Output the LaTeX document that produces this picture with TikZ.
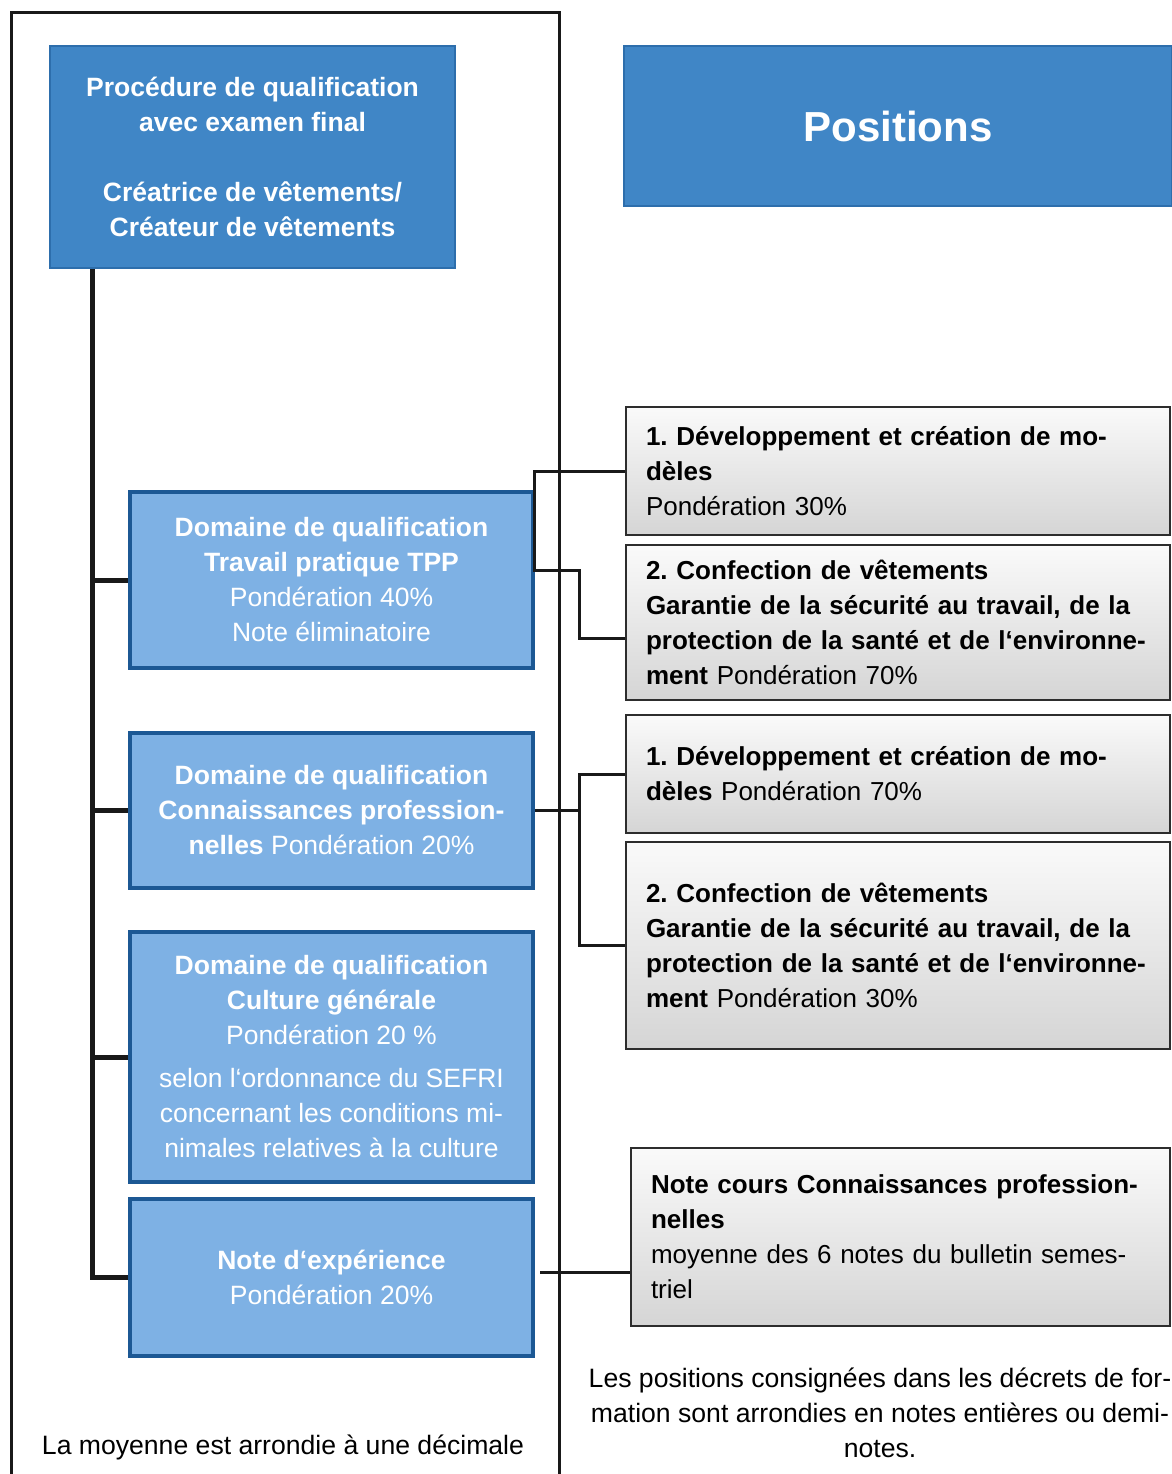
\documentclass[tikz,border=0pt]{standalone}
\usepackage{fontspec}
\setmainfont{Liberation Sans}
\frenchspacing
\definecolor{topblue}{RGB}{64,134,198}
\definecolor{topborder}{RGB}{45,110,172}
\definecolor{lightblue}{RGB}{126,177,228}
\definecolor{darkborder}{RGB}{28,88,148}
\definecolor{grayborder}{RGB}{45,45,45}
\definecolor{linecol}{RGB}{25,25,25}
\begin{document}
\begin{tikzpicture}[x=1pt,y=-1pt,
  topbox/.style={draw=topborder, line width=2pt, fill=topblue, text=white,
    font=\fontsize{26.5}{35}\selectfont\bfseries, align=center, inner sep=0pt},
  domainbox/.style={draw=darkborder, line width=3.5pt, fill=lightblue, text=white,
    font=\fontsize{26.5}{35}\selectfont, align=center, inner sep=0pt,
    minimum width=403pt},
  graybox/.style={draw=grayborder, line width=2pt, top color=gray!4, bottom color=gray!33,
    font=\fontsize{26}{35}\selectfont, align=left, inner xsep=20pt, inner ysep=0pt,
    text width=504pt},
  spine/.style={draw=linecol, line width=5pt},
  conn/.style={draw=linecol, line width=3pt},
  plain/.style={font=\fontsize{26.6}{35}\selectfont, inner sep=0pt, align=center}
]
\useasboundingbox (0,0) rectangle (1171,1474);
\fill[white] (0,0) rectangle (1171,1474);

% frame
\draw[line width=3pt, draw=linecol] (11,1480) -- (11,13) -- (559,13) -- (559,1480);

% top box
\node[topbox, minimum width=405pt, minimum height=222pt] (top) at (252.5,157)
  {Procédure de qualification\\avec examen final\\[35pt]Créatrice de vêtements/\\Créateur de vêtements};

% positions
\node[topbox, minimum width=548pt, minimum height=160pt, font=\fontsize{42}{48}\selectfont\bfseries] (pos) at (898,126) {Positions};

% domain boxes
\node[domainbox, minimum height=176pt] (d1) at (331.5,580)
  {\textbf{Domaine de qualification}\\\textbf{Travail pratique TPP}\\Pondération 40\%\\Note éliminatoire};
\node[domainbox, minimum height=155pt] (d2) at (331.5,810.5)
  {\textbf{Domaine de qualification}\\\textbf{Connaissances profession-}\\\textbf{nelles} Pondération 20\%};
\node[domainbox, minimum height=250pt] (d3) at (331.5,1057)
  {\textbf{Domaine de qualification}\\\textbf{Culture générale}\\Pondération 20 \%\\[8pt]selon l‘ordonnance du SEFRI\\concernant les conditions mi-\\nimales relatives à la culture};
\node[domainbox, minimum height=157pt] (d4) at (331.5,1277.5)
  {\textbf{Note d‘expérience}\\Pondération 20\%};

% gray boxes
\node[graybox, minimum height=128pt] (gA) at (898,471)
  {\mbox{\textbf{1. Développement et création de mo-}}\\\textbf{dèles}\\Pondération 30\%};
\node[graybox, minimum height=155pt] (gB) at (898,622.5)
  {\textbf{2. Confection de vêtements}\\\mbox{\textbf{Garantie de la sécurité au travail, de la}}\\\mbox{\textbf{protection de la santé et de l‘environne-}}\\\textbf{ment} Pondération 70\%};
\node[graybox, minimum height=118pt] (gC) at (898,774)
  {\mbox{\textbf{1. Développement et création de mo-}}\\\textbf{dèles} Pondération 70\%};
\node[graybox, minimum height=207pt] (gD) at (898,945.5)
  {\textbf{2. Confection de vêtements}\\\mbox{\textbf{Garantie de la sécurité au travail, de la}}\\\mbox{\textbf{protection de la santé et de l‘environne-}}\\\textbf{ment} Pondération 30\%};
\node[graybox, minimum height=178pt, text width=499pt] (gE) at (900.5,1237)
  {\mbox{\textbf{Note cours Connaissances profession-}}\\\textbf{nelles}\\\mbox{moyenne des 6 notes du bulletin semes-}\\triel};

% bottom notes
\node[plain] (n1) at (283,1447) {La moyenne est arrondie à une décimale};
\node[plain] (n2) at (880,1413) {Les positions consignées dans les décrets de for-\\mation sont arrondies en notes entières ou demi-\\notes.};

% left spine
\coordinate (sp) at (92,268);
\draw[spine] (top.south -| sp) |- (d4.west);
\draw[spine] (d1.west -| sp) -- (d1.west);
\draw[spine] (d2.west -| sp) -- (d2.west);
\draw[spine] (d3.west -| sp) -- (d3.west);

% right connectors
\coordinate (bx) at (579,0);
\coordinate (jA) at (d1.east |- gA.west);
\coordinate (j1) at ([yshift=10pt]d1.east);
\draw[conn] (gA.west) -- (jA) -- (j1) -- (j1 -| bx) |- ([yshift=-15.5pt]gB.west);
\draw[conn] (d2.east) -- (d2.east -| bx);
\draw[conn] (gC.west) -- (gC.west -| bx) -- (gD.west -| bx) -- (gD.west);
\coordinate (e4) at (540,1272);
\draw[conn] (e4) -- (e4 -| gE.west);
\end{tikzpicture}
\end{document}
